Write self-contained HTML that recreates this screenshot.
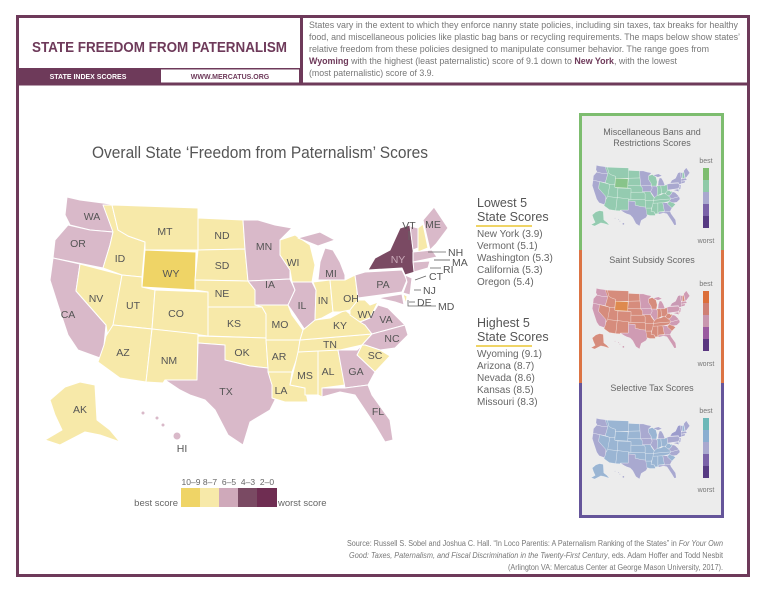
<!DOCTYPE html>
<html><head><meta charset="utf-8"><style>
html,body{margin:0;padding:0;background:#fff;}
svg{display:block;font-family:"Liberation Sans",sans-serif;}
.y1{fill:var(--a,#efd466)}
.y2{fill:var(--b,#f7e9a9)}
.p1{fill:var(--c,#d9b9c9)}
.p2{fill:var(--d,#7a4a63)}
.lb{font-size:10.5px;fill:#555;}
</style></head><body>
<svg width="768" height="593" viewBox="0 0 768 593" xmlns="http://www.w3.org/2000/svg">
<defs>
<g id="us" stroke="#fff" stroke-width="1" stroke-linejoin="round">
<polygon class="p1" points="67,197 80,200 118,205 113,232 90,230 70,225 65,215"/>
<polygon class="p1" points="68,225 90,230 113,232 110,245 103,268 53,258 55,240"/>
<polygon class="p1" points="53,258 80,264 76,291 106,325 104,345 100,358 78,350 68,335 58,305 50,280"/>
<polygon class="y2" points="80,264 122,275 113,330 108,338 106,325 76,291"/>
<polygon class="y2" points="103,205 112,205 118,230 128,236 145,242 142,277 122,275 103,268 110,245 113,232"/>
<polygon class="y2" points="112,205 198,208 198,250 145,250 145,242 128,236 118,230"/>
<polygon class="y1" points="145,250 196,252 195,290 142,287"/>
<polygon class="y2" points="198,218 243,220 245,249 198,250"/>
<polygon class="y2" points="198,250 245,249 248,281 195,280"/>
<polygon class="y2" points="195,280 248,281 255,290 262,307 208,307 208,292 195,290"/>
<polygon class="y2" points="122,275 142,277 142,287 155,290 152,329 113,325"/>
<polygon class="y2" points="155,290 208,292 208,336 152,329"/>
<polygon class="y2" points="113,325 152,329 146,382 120,378 98,362 104,345 106,336"/>
<polygon class="y2" points="152,329 198,334 197,380 165,380 163,383 146,382"/>
<polygon class="y2" points="208,307 262,307 266,314 266,338 208,336"/>
<polygon class="y2" points="198,336 266,338 268,368 250,366 225,360 225,345 198,343"/>
<polygon class="p1" points="198,343 225,345 225,360 250,366 268,368 272,375 275,400 270,410 250,422 243,445 228,435 215,410 205,400 190,395 180,390 165,380 197,380"/>
<polygon class="p1" points="243,220 258,220 275,225 292,228 280,240 280,255 290,270 290,279 248,281 245,249"/>
<polygon class="p1" points="248,281 290,279 295,290 288,305 255,305 255,290"/>
<polygon class="y2" points="280,240 295,235 310,245 315,265 312,282 292,282 290,270 280,255"/>
<polygon class="y2" points="255,305 288,305 292,315 303,330 300,340 266,340 266,314 262,307"/>
<polygon class="y2" points="266,340 300,340 298,355 292,372 268,372 268,368"/>
<polygon class="y2" points="268,372 292,372 290,385 305,388 308,402 285,402 272,398 272,385"/>
<polygon class="p1" points="292,282 312,282 316,290 315,320 305,330 295,315 288,305 295,290"/>
<polygon class="y2" points="298,352 318,350 318,395 305,395 305,388 290,385 295,365"/>
<polygon class="y2" points="318,350 338,350 345,385 322,388 322,397 318,395"/>
<polygon class="y2" points="300,340 372,334 362,345 340,350 298,352"/>
<polygon class="y2" points="303,330 315,320 330,318 345,310 355,318 365,325 372,334 300,340"/>
<polygon class="y2" points="313,282 330,280 333,312 322,318 315,320 316,290"/>
<polygon class="y2" points="330,280 345,280 355,275 358,300 350,310 340,312 333,312"/>
<polygon class="p1" points="318,280 320,262 325,248 333,250 340,262 345,275 345,280 330,280"/>
<polygon class="p1" points="298,238 320,232 335,240 318,246"/>
<polygon class="y2" points="358,300 365,300 370,305 378,302 370,318 360,322 350,315 350,310"/>
<polygon class="p1" points="360,322 370,318 378,305 388,308 395,315 405,325 372,334 365,325"/>
<polygon class="p1" points="372,334 405,325 408,335 395,348 380,350 365,345 362,345"/>
<polygon class="y2" points="362,345 365,345 380,350 390,356 375,372 357,355"/>
<polygon class="p1" points="338,350 357,350 362,345 357,355 375,372 368,385 345,388"/>
<polygon class="p1" points="322,388 345,388 368,385 372,395 390,420 393,440 385,442 375,425 365,410 355,395 340,392 322,397"/>
<polygon class="p1" points="355,275 365,272 402,270 407,280 402,292 358,298"/>
<polygon class="p2" points="400,228 410,225 413,248 414,262 415,272 405,275 402,268 368,270 375,258 390,250"/>
<polygon class="p1" points="405,275 412,278 410,295 403,293 407,282"/>
<polygon class="p1" points="378,298 402,294 404,305 395,302"/>
<polygon class="y2" points="403,294 407,296 406,304"/>
<polygon class="p1" points="410,226 418,228 418,248 413,250"/>
<polygon class="y2" points="418,228 423,224 428,248 418,252"/>
<polygon class="p1" points="423,220 434,207 448,228 436,244 430,250"/>
<polygon class="p1" points="413,252 432,250 437,257 413,262"/>
<polygon class="p1" points="413,262 430,261 428,268 414,272"/>
<polygon class="y2" points="65,387 80,382 95,385 97,420 110,430 120,442 100,435 85,432 60,445 45,440 62,430 55,415 50,400"/>
<g class="p1" stroke="none"><circle cx="143" cy="413" r="1.5"/><circle cx="157" cy="418" r="1.5"/><circle cx="163" cy="425" r="1.5"/><circle cx="177" cy="436" r="3.5"/></g>
</g>
</defs>

<!-- frames -->
<rect x="17.5" y="16.5" width="731" height="559" fill="none" stroke="#6e3a5a" stroke-width="3"/>
<line x1="16" y1="84" x2="750" y2="84" stroke="#6e3a5a" stroke-width="3"/>
<line x1="301.5" y1="15" x2="301.5" y2="84" stroke="#6e3a5a" stroke-width="3"/>
<rect x="16" y="68" width="286" height="16" fill="#6e3a5a"/>
<rect x="161" y="69.5" width="138" height="13" fill="#fff"/>
<text x="32" y="52" font-size="14.5" font-weight="bold" fill="#6e3a5a" textLength="255" lengthAdjust="spacingAndGlyphs">STATE FREEDOM FROM PATERNALISM</text>
<text x="88" y="79" font-size="7" font-weight="bold" fill="#fff" text-anchor="middle">STATE INDEX SCORES</text>
<text x="230" y="79" font-size="7" font-weight="bold" fill="#6e3a5a" text-anchor="middle">WWW.MERCATUS.ORG</text>
<g font-size="9.5" fill="#777">
<text x="309" y="28" textLength="429" lengthAdjust="spacingAndGlyphs">States vary in the extent to which they enforce nanny state policies, including sin taxes, tax breaks for healthy</text>
<text x="309" y="40" textLength="431" lengthAdjust="spacingAndGlyphs">food, and miscellaneous policies like plastic bag bans or recycling requirements. The maps below show states’</text>
<text x="309" y="52" textLength="400" lengthAdjust="spacingAndGlyphs">relative freedom from these policies designed to manipulate consumer behavior. The range goes from</text>
<text x="309" y="64" textLength="368" lengthAdjust="spacingAndGlyphs"><tspan font-weight="bold" fill="#6e3a5a">Wyoming</tspan> with the highest (least paternalistic) score of 9.1 down to <tspan font-weight="bold" fill="#6e3a5a">New York</tspan>, with the lowest</text>
<text x="309" y="76" textLength="125" lengthAdjust="spacingAndGlyphs">(most paternalistic) score of 3.9.</text>
</g>

<text x="92" y="158" font-size="16.5" fill="#555" textLength="336" lengthAdjust="spacingAndGlyphs">Overall State ‘Freedom from Paternalism’ Scores</text>

<use href="#us"/>

<g class="lb" text-anchor="middle">
<text x="92" y="220">WA</text><text x="78" y="247">OR</text><text x="68" y="318">CA</text><text x="96" y="302">NV</text>
<text x="120" y="262">ID</text><text x="165" y="235">MT</text><text x="171" y="277">WY</text><text x="222" y="239">ND</text>
<text x="222" y="269">SD</text><text x="222" y="297">NE</text><text x="133" y="309">UT</text><text x="176" y="317">CO</text>
<text x="123" y="356">AZ</text><text x="169" y="364">NM</text><text x="234" y="327">KS</text><text x="242" y="356">OK</text>
<text x="226" y="395">TX</text><text x="80" y="413">AK</text><text x="182" y="452">HI</text><text x="264" y="250">MN</text>
<text x="270" y="288">IA</text><text x="293" y="266">WI</text><text x="280" y="328">MO</text><text x="279" y="360">AR</text>
<text x="281" y="394">LA</text><text x="302" y="309">IL</text><text x="323" y="304">IN</text><text x="351" y="302">OH</text>
<text x="331" y="277">MI</text><text x="340" y="329">KY</text><text x="366" y="318">WV</text><text x="386" y="323">VA</text>
<text x="392" y="342">NC</text><text x="330" y="348">TN</text><text x="375" y="359">SC</text><text x="356" y="375">GA</text>
<text x="328" y="375">AL</text><text x="305" y="379">MS</text><text x="378" y="415">FL</text><text x="383" y="288">PA</text>
<text x="398" y="263" fill="#c9a9b9">NY</text><text x="409" y="229">VT</text><text x="433" y="228">ME</text>
</g>
<g class="lb" font-size="10">
<text x="448" y="256">NH</text><text x="452" y="266">MA</text><text x="443" y="273">RI</text><text x="429" y="280">CT</text>
<text x="423" y="294">NJ</text><text x="417" y="306">DE</text><text x="438" y="310">MD</text>
</g>
<g stroke="#666" stroke-width="0.8" fill="none">
<line x1="409" y1="231" x2="409" y2="240"/><line x1="428" y1="252" x2="446" y2="252"/>
<line x1="434" y1="260" x2="450" y2="260" stroke="#bbb" stroke-width="2"/><line x1="430" y1="268" x2="441" y2="268"/>
<line x1="415" y1="280" x2="426" y2="276"/><line x1="414" y1="290" x2="421" y2="290"/>
<line x1="409" y1="302" x2="415" y2="302"/><polyline points="408,300 408,306 436,306"/>
</g>

<g fill="#555">
<text x="477" y="207" font-size="12.5">Lowest 5</text>
<text x="477" y="221" font-size="12.5">State Scores</text>
<rect x="476" y="225" width="56" height="2" fill="#efd466"/>
<g font-size="10" fill="#666">
<text x="477" y="237">New York (3.9)</text><text x="477" y="249">Vermont (5.1)</text><text x="477" y="261">Washington (5.3)</text><text x="477" y="273">California (5.3)</text><text x="477" y="285">Oregon (5.4)</text>
</g>
<text x="477" y="327" font-size="12.5">Highest 5</text>
<text x="477" y="341" font-size="12.5">State Scores</text>
<rect x="476" y="345" width="56" height="2" fill="#efd466"/>
<g font-size="10" fill="#666">
<text x="477" y="357">Wyoming (9.1)</text><text x="477" y="369">Arizona (8.7)</text><text x="477" y="381">Nevada (8.6)</text><text x="477" y="393">Kansas (8.5)</text><text x="477" y="405">Missouri (8.3)</text>
</g>
</g>

<!-- legend -->
<g font-size="8.5" fill="#666" text-anchor="middle">
<text x="191" y="485">10–9</text><text x="210" y="485">8–7</text><text x="229" y="485">6–5</text><text x="248" y="485">4–3</text><text x="267" y="485">2–0</text>
</g>
<rect x="181" y="488" width="20" height="19" fill="#efd466"/>
<rect x="200" y="488" width="20" height="19" fill="#f7e9a9"/>
<rect x="219" y="488" width="20" height="19" fill="#cfa9ba"/>
<rect x="238" y="488" width="20" height="19" fill="#7a4a63"/>
<rect x="257" y="488" width="20" height="19" fill="#6f2d52"/>
<text x="178" y="506" font-size="9.5" fill="#666" text-anchor="end">best score</text>
<text x="278" y="506" font-size="9.5" fill="#666">worst score</text>

<!-- right panel -->
<rect x="579" y="113" width="145" height="405" fill="#ececec"/>
<path d="M580.5,250 V114.5 H722.5 V250" fill="none" stroke="#7dbd6f" stroke-width="3"/>
<path d="M580.5,250 V383 M722.5,250 V383" stroke="#dc7444" stroke-width="3"/>
<path d="M580.5,383 V516.5 H722.5 V383" fill="none" stroke="#65559a" stroke-width="3"/>
<g font-size="9" fill="#666" text-anchor="middle">
<text x="652" y="135">Miscellaneous Bans and</text><text x="652" y="146">Restrictions Scores</text>
<text x="652" y="263">Saint Subsidy Scores</text>
<text x="652" y="391">Selective Tax Scores</text>
</g>
<g font-size="7" fill="#777" text-anchor="middle">
<text x="706" y="163">best</text><text x="706" y="243">worst</text>
<text x="706" y="286">best</text><text x="706" y="366">worst</text>
<text x="706" y="413">best</text><text x="706" y="492">worst</text>
</g>
<g>
<rect x="703" y="168" width="6" height="12" fill="#7dbd6f"/><rect x="703" y="180" width="6" height="12" fill="#8fcaa8"/><rect x="703" y="192" width="6" height="12" fill="#a9a8cf"/><rect x="703" y="204" width="6" height="12" fill="#7a62a8"/><rect x="703" y="216" width="6" height="12" fill="#563a82"/>
<rect x="703" y="291" width="6" height="12" fill="#dc6f3a"/><rect x="703" y="303" width="6" height="12" fill="#cf8074"/><rect x="703" y="315" width="6" height="12" fill="#c896ae"/><rect x="703" y="327" width="6" height="12" fill="#9a5aa0"/><rect x="703" y="339" width="6" height="12" fill="#5a3680"/>
<rect x="703" y="418" width="6" height="12" fill="#6cb8b8"/><rect x="703" y="430" width="6" height="12" fill="#8aaed0"/><rect x="703" y="442" width="6" height="12" fill="#a9a8cf"/><rect x="703" y="454" width="6" height="12" fill="#7a62a8"/><rect x="703" y="466" width="6" height="12" fill="#563a82"/>
</g>
<use href="#us" transform="translate(580,117) scale(0.245)" style="--a:#88c48a;--b:#94cbb0;--c:#a9a8cf;--d:#a9a8cf"/>
<use href="#us" transform="translate(580,240) scale(0.245)" style="--a:#de8a4e;--b:#d68c7c;--c:#cf9bb3;--d:#c99ab4"/>
<use href="#us" transform="translate(580,370) scale(0.245)" style="--a:#95b3d2;--b:#9ab5d3;--c:#a9a9d0;--d:#9c9ccc"/>

<!-- source -->
<g font-size="8" fill="#777" text-anchor="end">
<text x="723" y="546" textLength="376" lengthAdjust="spacingAndGlyphs">Source: Russell S. Sobel and Joshua C. Hall. “In Loco Parentis: A Paternalism Ranking of the States” in <tspan font-style="italic">For Your Own</tspan></text>
<text x="723" y="558" textLength="374" lengthAdjust="spacingAndGlyphs"><tspan font-style="italic">Good: Taxes, Paternalism, and Fiscal Discrimination in the Twenty-First Century</tspan>, eds. Adam Hoffer and Todd Nesbit</text>
<text x="723" y="570" textLength="215" lengthAdjust="spacingAndGlyphs">(Arlington VA: Mercatus Center at George Mason University, 2017).</text>
</g>
</svg>
</body></html>
